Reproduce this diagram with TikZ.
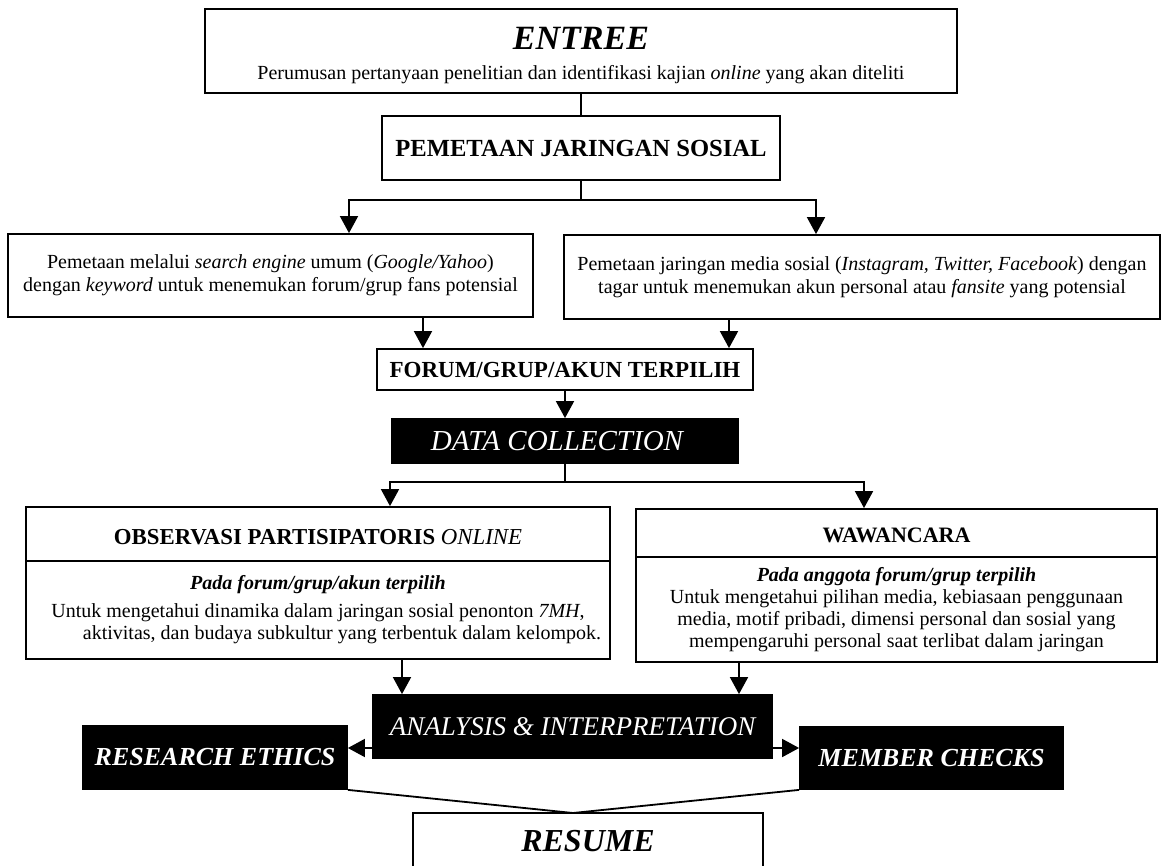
\documentclass[tikz,border=0pt]{standalone}
\usepackage{fontspec}
\setmainfont{Liberation Serif}
\usetikzlibrary{arrows.meta}

\tikzset{
  box/.style={draw, line width=0.9pt, inner sep=0pt, align=center,
    font=\fontsize{10}{11.5}\selectfont},
  darkbox/.style={box, fill=black, text=white},
  >={Triangle[length=8.5pt,width=9pt]}
}

\begin{document}
\begin{tikzpicture}[x=0.5pt, y=-0.5pt, line width=0.9pt]
  \useasboundingbox (0,0) rectangle (1163,866);

  % top part
  \node[box, minimum width=376pt, minimum height=42pt, font=\fontsize{10}{15}\selectfont] (entree) at (581,51)
    {\rule{0pt}{16pt}{\fontsize{17}{20}\selectfont\bfseries\itshape ENTREE}\\
     Perumusan pertanyaan penelitian dan identifikasi kajian \textit{online} yang akan diteliti};
  \node[box, minimum width=199pt, minimum height=32pt, font=\fontsize{12.3}{14}\selectfont\bfseries] (pem) at (581,148)
    {PEMETAAN JARINGAN SOSIAL};
  \node[box, minimum width=262.5pt, minimum height=41.5pt] (srch) at (270.5,275.5)
    {Pemetaan melalui \textit{search engine} umum (\textit{Google/Yahoo})\\
     dengan \textit{keyword} untuk menemukan forum/grup fans potensial};
  \node[box, minimum width=298pt, minimum height=42pt] (sosmed) at (862,277)
    {Pemetaan jaringan media sosial (\textit{Instagram, Twitter, Facebook}) dengan\\
     tagar untuk menemukan akun personal atau \textit{fansite} yang potensial};
  \node[box, minimum width=188pt, minimum height=20.5pt, font=\fontsize{11.5}{13}\selectfont\bfseries] (forum) at (565,369.5)
    {FORUM/GRUP/AKUN TERPILIH};
  \node[darkbox, minimum width=173pt, minimum height=22pt, font=\fontsize{14.5}{16}\selectfont\itshape] (dc) at (565,441)
    {DATA COLLECTION\hspace*{8pt}};

  % data collection
  \node[box, minimum width=292pt, minimum height=27pt, font=\fontsize{11.4}{13}\selectfont\bfseries] (obsT) at (318,534)
    {\rule{0pt}{11pt}OBSERVASI PARTISIPATORIS {\mdseries\itshape ONLINE}};
  \node[box, minimum width=292pt, minimum height=49pt, font=\fontsize{10}{11}\selectfont] (obsB) at (318,610)
    {\textbf{\textit{Pada forum/grup/akun terpilih}}\\[3pt]
     Untuk mengetahui dinamika dalam jaringan sosial penonton \textit{7MH},\\
     \hspace*{24pt}aktivitas, dan budaya subkultur yang terbentuk dalam kelompok.};
  \node[box, minimum width=260.5pt, minimum height=24pt, font=\fontsize{11}{13}\selectfont\bfseries] (wawT) at (896.5,533)
    {\rule{0pt}{9.5pt}WAWANCARA};
  \node[box, minimum width=260.5pt, minimum height=52.5pt, font=\fontsize{10}{11}\selectfont] (wawB) at (896.5,609.5)
    {\textbf{\textit{Pada anggota forum/grup terpilih}}\\
     Untuk mengetahui pilihan media, kebiasaan penggunaan\\
     media, motif pribadi, dimensi personal dan sosial yang\\
     mempengaruhi personal saat terlibat dalam jaringan};

  % bottom part
  \node[darkbox, minimum width=199.5pt, minimum height=31.5pt, font=\fontsize{13.5}{15}\selectfont\itshape] (ana) at (572.5,726.5)
    {ANALYSIS \& INTERPRETATION};
  \node[darkbox, minimum width=132pt, minimum height=31.5pt, font=\fontsize{13}{15}\selectfont\bfseries\itshape] (ethics) at (215,757.5)
    {RESEARCH ETHICS};
  \node[darkbox, minimum width=131.5pt, minimum height=31pt, font=\fontsize{13}{15}\selectfont\bfseries\itshape] (member) at (931.5,758)
    {MEMBER CHECKS};
  \node[box, minimum width=175pt, minimum height=28.5pt, font=\fontsize{16}{18}\selectfont\bfseries\itshape] (resume) at (588,841.5)
    {RESUME};

  % fork and arrow points
  \coordinate (f1L) at (349,200);
  \coordinate (f1R) at (816,200);
  \coordinate (a1) at (423,0);
  \coordinate (a2) at (729,0);
  \coordinate (f2L) at (390,482);
  \coordinate (f2R) at (864,482);
  \coordinate (a3) at (402,0);
  \coordinate (a4) at (739,0);
  \coordinate (s1) at (0,748);
  \coordinate (meet) at (573,813);

  % connectors
  \draw (entree) -- (pem);
  \draw[->] (pem.south) |- (f1L) -- (f1L |- srch.north);
  \draw[->] (pem.south) |- (f1R) -- (f1R |- sosmed.north);
  \draw[->] (srch.south -| a1) -- (forum.north -| a1);
  \draw[->] (sosmed.south -| a2) -- (forum.north -| a2);
  \draw[->] (forum) -- (dc);
  \draw[->] (dc.south) |- (f2L) -- (f2L |- obsT.north);
  \draw[->] (dc.south) |- (f2R) -- (f2R |- wawT.north);
  \draw[->] (obsB.south -| a3) -- (ana.north -| a3);
  \draw[->] (wawB.south -| a4) -- (ana.north -| a4);
  \draw[->] (ana.west |- s1) -- (ethics.east |- s1);
  \draw[->] (ana.east |- s1) -- (member.west |- s1);
  \draw (ethics.south east) -- (meet) -- (member.south west);
\end{tikzpicture}
\end{document}
